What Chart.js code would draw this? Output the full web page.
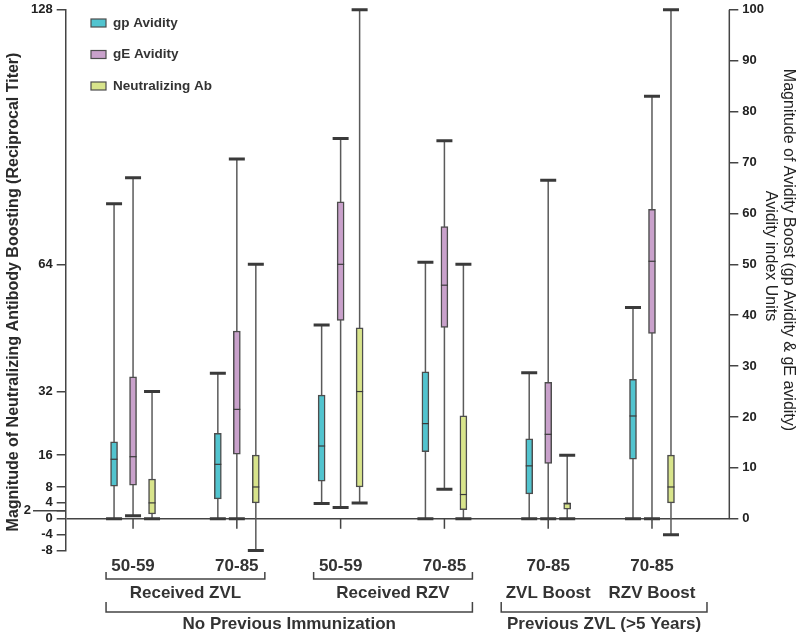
<!DOCTYPE html>
<html>
<head>
<meta charset="utf-8">
<script src="https://cdn.jsdelivr.net/npm/chart.js@4.4.1/dist/chart.umd.min.js"></script>
<style>
  html, body { margin: 0; padding: 0; background: #fff; }
</style>
</head>
<body>
<canvas id="chart" width="800" height="636"></canvas>
<script>
const ageLabels = ["50-59", "70-85", "50-59", "70-85", "70-85", "70-85"];
const leftTicks = [128, 64, 32, 16, 8, 4, 2, 0, -4, -8];
const rightTicks = [0, 10, 20, 30, 40, 50, 60, 70, 80, 90, 100];

// gp avidity (right axis, avidity index units)
const gpLow  = [0, 0, 3.0, 0, 0, 0];
const gpQ1   = [6.4, 3.9, 7.4, 13.2, 4.9, 11.7];
const gpMed  = [11.7, 10.7, 14.3, 18.7, 10.4, 20.2];
const gpQ3   = [15.1, 16.8, 24.3, 28.9, 15.7, 27.4];
const gpHigh = [61.9, 28.6, 38.1, 50.4, 28.7, 41.5];

// gE avidity (right axis)
const geLow  = [0.6, 0, 2.2, 5.8, 0, 0];
const geQ1   = [6.6, 12.7, 39.0, 37.6, 10.9, 36.4];
const geMed  = [12.2, 21.5, 50.0, 45.9, 16.6, 50.6];
const geQ3   = [27.9, 36.9, 62.3, 57.4, 26.8, 60.8];
const geHigh = [67.0, 70.7, 74.7, 74.3, 66.5, 83.0];

// neutralizing Ab (left axis, reciprocal titer)
const nabLow  = [0, -8, 4, 0, 0, -4];
const nabQ1   = [1.2, 4, 8, 2.3, 2.4, 4];
const nabMed  = [4, 8, 32, 6.1, 3.9, 8];
const nabQ3   = [10, 16, 48, 25.9, 3.9, 16];
const nabHigh = [32, 64, 128, 64, 16, 128];

const FONT = "'Liberation Sans', Arial, Helvetica, sans-serif";
const INK = "#333";

function series(label, color, axis, shift, low, q1, med, q3, high) {
  return {
    label,
    yAxisID: axis,
    backgroundColor: color,
    borderColor: "#4d4d4d",
    borderWidth: 1.5,
    borderSkipped: false,
    barThickness: 7,
    grouped: false,
    data: ageLabels.map((_, i) => ({ x: i + 1 + shift, y: [q1[i], q3[i]] })),
    stats: { low, med, high }
  };
}

const boxPlugin = {
  id: "boxWhiskers",
  beforeDatasetsDraw(chart) {
    const ctx = chart.ctx;
    chart.data.datasets.forEach((ds, di) => {
      const ys = chart.scales[ds.yAxisID];
      chart.getDatasetMeta(di).data.forEach((bar, i) => {
        const top = ys.getPixelForValue(ds.stats.high[i]);
        const bot = ys.getPixelForValue(ds.stats.low[i]);
        ctx.save();
        ctx.strokeStyle = "#5a5a5a";
        ctx.lineWidth = 1.5;
        ctx.beginPath();
        ctx.moveTo(bar.x, top);
        ctx.lineTo(bar.x, bot);
        ctx.stroke();
        ctx.strokeStyle = "#3a3a3a";
        ctx.lineWidth = 3;
        ctx.beginPath();
        ctx.moveTo(bar.x - 8, top); ctx.lineTo(bar.x + 8, top);
        ctx.moveTo(bar.x - 8, bot); ctx.lineTo(bar.x + 8, bot);
        ctx.stroke();
        ctx.restore();
      });
    });
  },
  afterDatasetsDraw(chart) {
    const ctx = chart.ctx;
    chart.data.datasets.forEach((ds, di) => {
      const ys = chart.scales[ds.yAxisID];
      chart.getDatasetMeta(di).data.forEach((bar, i) => {
        const y = ys.getPixelForValue(ds.stats.med[i]);
        ctx.save();
        ctx.strokeStyle = "#3a3a3a";
        ctx.lineWidth = 1.2;
        ctx.beginPath();
        ctx.moveTo(bar.x - bar.width / 2, y);
        ctx.lineTo(bar.x + bar.width / 2, y);
        ctx.stroke();
        ctx.restore();
      });
    });
  },
  afterDraw(chart) {
    const ctx = chart.ctx;
    const area = chart.chartArea;
    const xs = chart.scales.x, yl = chart.scales.y, yr = chart.scales.y2;
    const px = v => xs.getPixelForValue(v);
    const y0 = yl.getPixelForValue(0);

    ctx.save();
    ctx.strokeStyle = "#444";
    ctx.lineWidth = 1.5;

    // right axis line only spans 0..100
    ctx.beginPath();
    ctx.moveTo(area.right, yr.getPixelForValue(0));
    ctx.lineTo(area.right, yr.getPixelForValue(100));
    ctx.stroke();

    // long tick for the "2" mark
    const y2 = yl.getPixelForValue(2);
    ctx.beginPath();
    ctx.moveTo(33, y2);
    ctx.lineTo(area.left, y2);
    ctx.stroke();
    ctx.fillStyle = "#222";
    ctx.font = "bold 13px " + FONT;
    ctx.textAlign = "right";
    ctx.textBaseline = "middle";
    ctx.fillText("2", 31, y2);

    // category ticks under the zero line
    ageLabels.forEach((_, i) => {
      ctx.beginPath();
      ctx.moveTo(px(i + 1), y0);
      ctx.lineTo(px(i + 1), y0 + 10);
      ctx.stroke();
    });

    // brackets
    const bracket = (x1, x2, y, h) => {
      ctx.beginPath();
      ctx.moveTo(x1, y - h);
      ctx.lineTo(x1, y);
      ctx.lineTo(x2, y);
      ctx.lineTo(x2, y - h);
      ctx.stroke();
    };
    ctx.fillStyle = INK;
    ctx.font = "bold 17px " + FONT;
    ctx.textAlign = "center";

    const zvlL = px(1) - 27, zvlR = px(2) + 28;
    const rzvL = px(3) - 27, rzvR = px(4) + 28;
    bracket(zvlL, zvlR, 579, 7);
    bracket(rzvL, rzvR, 579, 7);
    ctx.fillText("Received ZVL", (zvlL + zvlR) / 2, 593);
    ctx.fillText("Received RZV", (rzvL + rzvR) / 2, 593);
    ctx.fillText("ZVL Boost", px(5), 593);
    ctx.fillText("RZV Boost", px(6), 593);

    const prvL = px(5) - 47, prvR = px(6) + 55;
    bracket(zvlL, rzvR, 612, 10);
    bracket(prvL, prvR, 612, 10);
    ctx.fillText("No Previous Immunization", (zvlL + rzvR) / 2, 624);
    ctx.fillText("Previous ZVL (>5 Years)", (prvL + prvR) / 2, 624);

    // axis titles
    ctx.save();
    ctx.translate(14, 292);
    ctx.rotate(-Math.PI / 2);
    ctx.font = "bold 16px " + FONT;
    ctx.fillStyle = "#2a2a2a";
    ctx.fillText("Magnitude of Neutralizing Antibody Boosting (Reciprocal Titer)", 0, 0);
    ctx.restore();

    ctx.save();
    ctx.translate(788, 250);
    ctx.rotate(Math.PI / 2);
    ctx.font = "16px " + FONT;
    ctx.fillStyle = "#222";
    ctx.fillText("Magnitude of Avidity Boost (gp Avidity & gE avidity)", 0, 0);
    ctx.restore();
    ctx.save();
    ctx.translate(770, 256);
    ctx.rotate(Math.PI / 2);
    ctx.font = "16px " + FONT;
    ctx.fillStyle = "#222";
    ctx.fillText("Avidity index Units", 0, 0);
    ctx.restore();

    // legend
    ctx.textAlign = "left";
    ctx.font = "bold 13.5px " + FONT;
    chart.data.datasets.forEach((ds, i) => {
      const cy = 23 + i * 31.5;
      ctx.fillStyle = ds.backgroundColor;
      ctx.fillRect(91, cy - 4, 15, 8);
      ctx.lineWidth = 1.2;
      ctx.strokeStyle = "#4d4d4d";
      ctx.strokeRect(91, cy - 4, 15, 8);
      ctx.fillStyle = INK;
      ctx.fillText(ds.label, 113, cy);
    });
    ctx.restore();
  }
};

new Chart(document.getElementById("chart"), {
  type: "bar",
  data: {
    datasets: [
      series("gp Avidity", "#52c4cf", "y2", -0.183, gpLow, gpQ1, gpMed, gpQ3, gpHigh),
      series("gE Avidity", "#c9a1cb", "y2", 0, geLow, geQ1, geMed, geQ3, geHigh),
      series("Neutralizing Ab", "#d8e48b", "y", 0.183, nabLow, nabQ1, nabMed, nabQ3, nabHigh)
    ]
  },
  options: {
    responsive: false,
    animation: false,
    layout: { padding: { left: 27, right: 32, top: 8, bottom: 61 } },
    plugins: { legend: { display: false }, tooltip: { enabled: false } },
    scales: {
      x: {
        type: "linear",
        offset: false,
        min: 0.351,
        max: 6.745,
        afterBuildTicks: axis => { axis.ticks = ageLabels.map((_, i) => ({ value: i + 1 })); },
        grid: { display: false },
        border: { display: false },
        ticks: {
          autoSkip: false,
          maxRotation: 0,
          padding: -2,
          color: INK,
          font: { family: FONT, size: 17, weight: "bold" },
          callback: v => ageLabels[v - 1]
        }
      },
      y: {
        type: "linear",
        position: "left",
        min: -8,
        max: 128,
        afterBuildTicks: axis => { axis.ticks = leftTicks.map(v => ({ value: v })); },
        grid: {
          color: c => (c.tick && c.tick.value === 0 ? "#444" : "rgba(0,0,0,0)"),
          tickColor: "#444",
          lineWidth: 1.5,
          tickLength: 9
        },
        border: { display: true, color: "#444", width: 1.5 },
        ticks: {
          autoSkip: false,
          padding: 4,
          color: "#222",
          font: { family: FONT, size: 13, weight: "bold", lineHeight: 0.9 },
          callback: v => (v === 2 ? "" : v)
        }
      },
      y2: {
        type: "linear",
        position: "right",
        min: -6.25,
        max: 100,
        afterBuildTicks: axis => { axis.ticks = rightTicks.map(v => ({ value: v })); },
        grid: { drawOnChartArea: false, tickColor: "#444", lineWidth: 1.5, tickLength: 9 },
        border: { display: false },
        ticks: {
          autoSkip: false,
          padding: 4,
          color: "#222",
          font: { family: FONT, size: 13, weight: "bold", lineHeight: 0.9 }
        }
      }
    }
  },
  plugins: [boxPlugin]
});
</script>
</body>
</html>
